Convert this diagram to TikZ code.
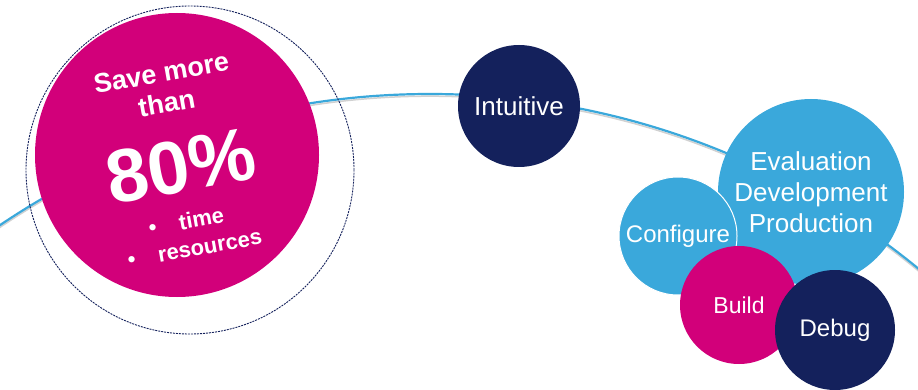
\documentclass[tikz,border=0pt]{standalone}
\usepackage{fontspec}
\setmainfont{Liberation Sans}
\usetikzlibrary{positioning}

\definecolor{navy}{HTML}{14215C}
\definecolor{skyblue}{HTML}{3AA8DB}
\definecolor{magenta}{HTML}{D2007A}

\begin{document}
\begin{tikzpicture}[x=1pt,y=1pt]

\useasboundingbox (0,0) rectangle (918,-390);
\clip (0,0) rectangle (918,-390);

% the long arc
\draw[black!18,line width=1.5pt] (430,-866.2) circle[radius=770];
\draw[skyblue,line width=2.2pt] (430,-864) circle[radius=770];

% big saving bubble
\node[circle,fill=magenta,minimum size=284pt,inner sep=0pt] (save) at (177,-155) {};
\node[circle,draw=navy,dash pattern=on 2pt off 1pt,line width=0.9pt,minimum size=328pt,inner sep=0pt] (ring) at (190,-170) {};

\begin{scope}[every node/.style={text=white,rotate=10,inner sep=0pt}]
	\node[font=\bfseries\fontsize{27}{31}\selectfont,align=center] (more) at (164,-88) {Save more\\than};
	\node[font=\bfseries\fontsize{75}{75}\selectfont] (pct) at (181,-166) {80\%};
	\node[font=\bfseries\fontsize{22}{26}\selectfont,anchor=base west] (tm) at (150,-235.5) {\textbullet\hspace{23pt}time};
	\node[font=\bfseries\fontsize{22}{26}\selectfont,anchor=base west] (res) at (129,-267.5) {\textbullet\hspace{23pt}resources};
\end{scope}

% process bubbles
\begin{scope}[every node/.style={circle,inner sep=0pt,text=white,align=center}]
	\node[fill=navy,minimum size=122pt,font=\fontsize{26}{30}\selectfont] (intu) at (519,-106) {Intuitive};
	\node[fill=skyblue,minimum size=186pt,font=\fontsize{26}{31}\selectfont] (eval) at (811,-192) {Evaluation\\Development\\Production};
	\node[fill=skyblue,draw=white,line width=1pt,minimum size=118pt,font=\fontsize{24}{28}\selectfont] (conf) at (678,-236) {Configure};
	\node[fill=magenta,minimum size=118pt,font=\fontsize{23}{27}\selectfont] (bld) at (739,-305) {Build};
	\node[fill=navy,minimum size=120pt,font=\fontsize{24}{28}\selectfont] (dbg) at (835,-330) {Debug};
\end{scope}

\end{tikzpicture}
\end{document}
